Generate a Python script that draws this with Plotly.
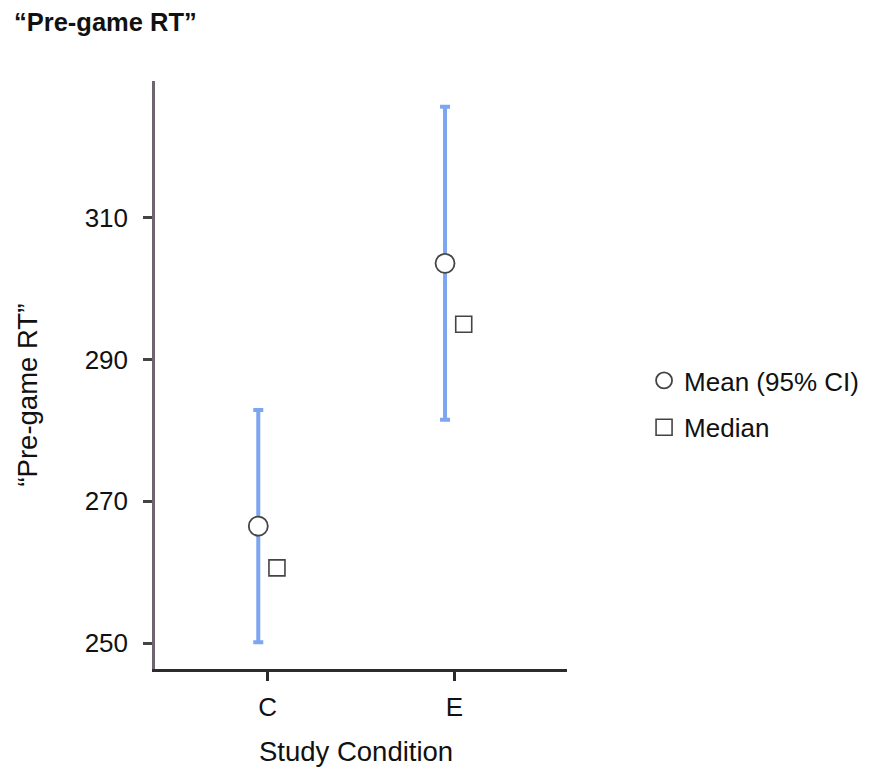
import plotly.graph_objects as go

# Summary statistics of pre-game reaction time per study condition
conditions = ["C", "E"]
mean_rt = [266.5, 303.6]
ci_low = [250.1, 281.5]
ci_high = [282.9, 325.7]
median_rt = [260.6, 295.0]
y_ticks = [250, 270, 290, 310]

pos = list(range(len(conditions)))
dodge = 0.05
FONT = "Liberation Sans, Arial, Helvetica, sans-serif"
TXT = 26
AXTITLE = 27.5

fig = go.Figure()

fig.add_trace(go.Scatter(
    x=[p - dodge for p in pos], y=mean_rt,
    mode="markers", name="Mean (95% CI)", legendgroup="mean",
    marker=dict(symbol="circle", size=19, color="white",
                line=dict(color="#444444", width=1.8)),
    error_y=dict(type="data", symmetric=False,
                 array=[h - m for h, m in zip(ci_high, mean_rt)],
                 arrayminus=[m - l for m, l in zip(mean_rt, ci_low)],
                 color="#7ea6f0", thickness=4, width=5),
))

fig.add_trace(go.Scatter(
    x=[p + dodge for p in pos], y=median_rt,
    mode="markers", name="Median", legendgroup="median",
    marker=dict(symbol="square", size=16, color="white",
                line=dict(color="#444444", width=1.6)),
))

fig.update_layout(
    width=876, height=767,
    margin=dict(l=155, r=304, t=81, b=98),
    plot_bgcolor="white", paper_bgcolor="white",
    font=dict(family=FONT, size=TXT, color="#111111"),
    title=dict(text="<b>“Pre-game RT”</b>", x=14 / 876, xref="container", xanchor="left",
               y=1 - 22 / 767, yref="container", yanchor="middle",
               font=dict(family=FONT, size=25.5, color="#111111")),
    xaxis=dict(range=[-0.603, 1.603], tickvals=pos, ticktext=conditions,
               showgrid=False, zeroline=False,
               showline=True, linecolor="#2b2b2b", linewidth=2.5,
               ticks="outside", ticklen=9, tickwidth=3, tickcolor="#2b2b2b",
               ticklabelstandoff=4,
               tickfont=dict(size=TXT)),
    yaxis=dict(range=[246.33, 329.34], tickvals=y_ticks,
               showgrid=False, zeroline=False,
               showline=True, linecolor="#6e6570", linewidth=2.5,
               ticks="outside", ticklen=9, tickwidth=3, tickcolor="#444444",
               ticklabelstandoff=10,
               tickfont=dict(size=TXT)),
    legend=dict(x=(650 - 155) / 417, xanchor="left", y=(669 - 357) / 588, yanchor="top",
                font=dict(size=TXT), tracegroupgap=10, bgcolor="rgba(0,0,0,0)"),
    annotations=[
        dict(text="Study Condition", xref="paper", yref="paper",
             x=(358 - 155) / 417, y=(669 - 751) / 588, xanchor="center", yanchor="middle",
             showarrow=False, font=dict(size=AXTITLE)),
        dict(text="“Pre-game RT”", xref="paper", yref="paper", textangle=-90,
             x=(25 - 155) / 417, y=(669 - 395) / 588, xanchor="center", yanchor="middle",
             showarrow=False, font=dict(size=AXTITLE)),
    ],
)

fig.write_html("out.html")
